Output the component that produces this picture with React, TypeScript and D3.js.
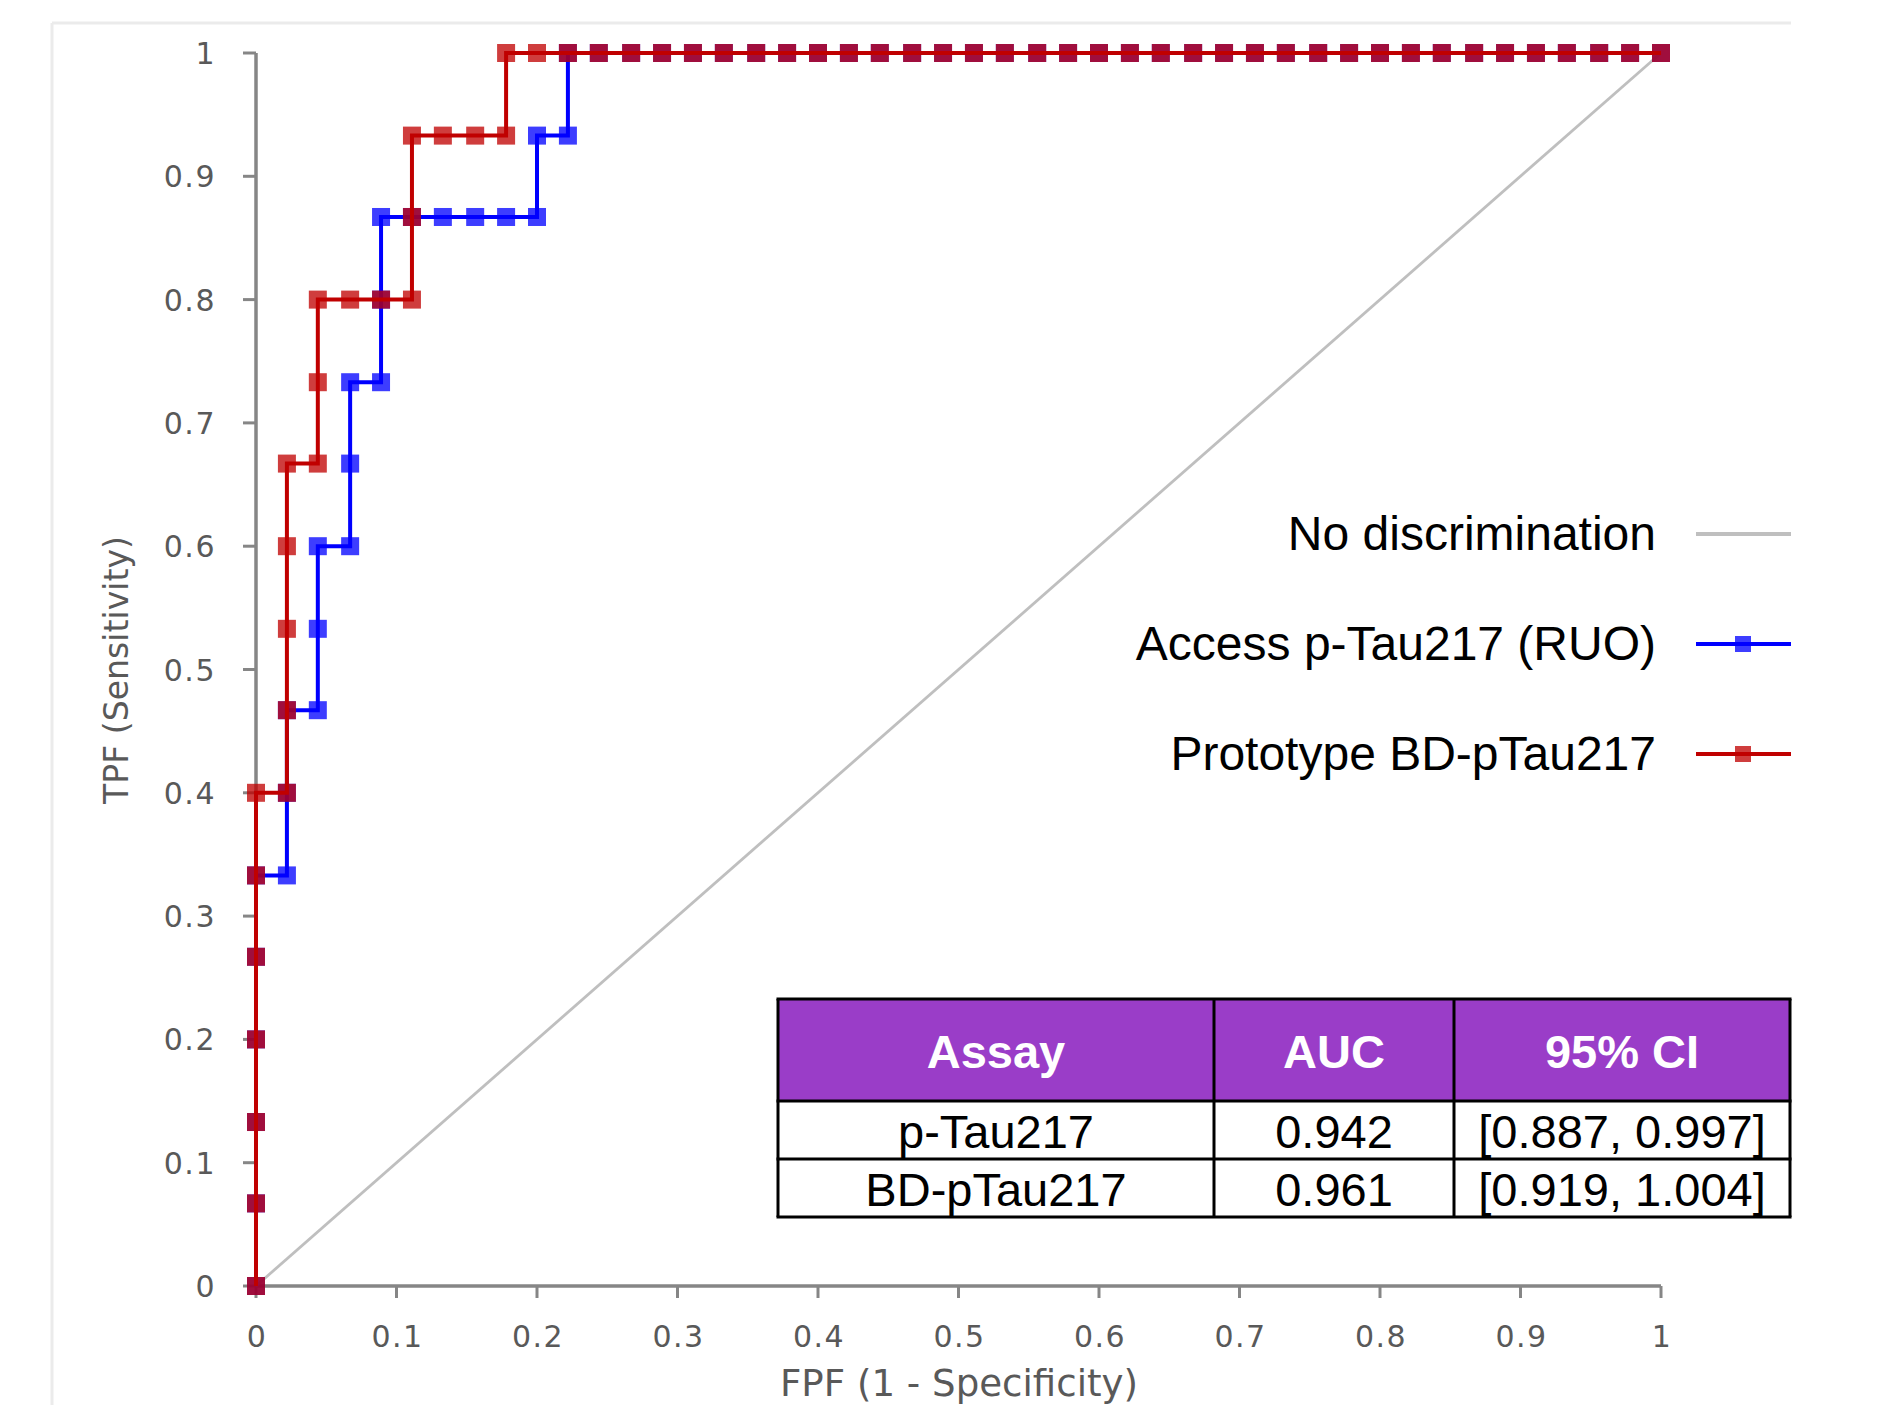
import React from "react";
import * as d3 from "d3";

// ---- data ----
const xTickValues = [0, 0.1, 0.2, 0.3, 0.4, 0.5, 0.6, 0.7, 0.8, 0.9, 1];
const yTickValues = [0, 0.1, 0.2, 0.3, 0.4, 0.5, 0.6, 0.7, 0.8, 0.9, 1];

const accessFPF = [
  0, 0, 0, 0, 0, 0, 0.022, 0.022, 0.022, 0.044, 0.044, 0.044, 0.067, 0.067, 0.067,
  0.089, 0.089, 0.089, 0.111, 0.133, 0.156, 0.178, 0.2, 0.2, 0.222, 0.222,
  0.244, 0.267, 0.289, 0.311, 0.333, 0.356, 0.378, 0.4, 0.422, 0.444, 0.467, 0.489,
  0.511, 0.533, 0.556, 0.578, 0.6, 0.622, 0.644, 0.667, 0.689, 0.711, 0.733, 0.756,
  0.778, 0.8, 0.822, 0.844, 0.867, 0.889, 0.911, 0.933, 0.956, 0.978, 1,
];
const accessTPF = [
  0, 0.067, 0.133, 0.2, 0.267, 0.333, 0.333, 0.4, 0.467, 0.467, 0.533, 0.6, 0.6, 0.667, 0.733,
  0.733, 0.8, 0.867, 0.867, 0.867, 0.867, 0.867, 0.867, 0.933, 0.933, 1,
  1, 1, 1, 1, 1, 1, 1, 1, 1, 1, 1, 1,
  1, 1, 1, 1, 1, 1, 1, 1, 1, 1, 1, 1,
  1, 1, 1, 1, 1, 1, 1, 1, 1, 1, 1,
];

const prototypeFPF = [
  0, 0, 0, 0, 0, 0, 0, 0.022, 0.022, 0.022, 0.022, 0.022, 0.044, 0.044, 0.044,
  0.067, 0.089, 0.111, 0.111, 0.111, 0.133, 0.156, 0.178, 0.178, 0.2, 0.222,
  0.244, 0.267, 0.289, 0.311, 0.333, 0.356, 0.378, 0.4, 0.422, 0.444, 0.467, 0.489,
  0.511, 0.533, 0.556, 0.578, 0.6, 0.622, 0.644, 0.667, 0.689, 0.711, 0.733, 0.756,
  0.778, 0.8, 0.822, 0.844, 0.867, 0.889, 0.911, 0.933, 0.956, 0.978, 1,
];
const prototypeTPF = [
  0, 0.067, 0.133, 0.2, 0.267, 0.333, 0.4, 0.4, 0.467, 0.533, 0.6, 0.667, 0.667, 0.733, 0.8,
  0.8, 0.8, 0.8, 0.867, 0.933, 0.933, 0.933, 0.933, 1, 1, 1,
  1, 1, 1, 1, 1, 1, 1, 1, 1, 1, 1, 1,
  1, 1, 1, 1, 1, 1, 1, 1, 1, 1, 1, 1,
  1, 1, 1, 1, 1, 1, 1, 1, 1, 1, 1,
];

const diagonalFPF = [0, 1];
const diagonalTPF = [0, 1];

const legendLabels = ["No discrimination", "Access p-Tau217 (RUO)", "Prototype BD-pTau217"];

const tableHeaders = ["Assay", "AUC", "95% CI"];
const tableAssays = ["p-Tau217", "BD-pTau217"];
const tableAUC = ["0.942", "0.961"];
const tableCI = ["[0.887, 0.997]", "[0.919, 1.004]"];

// ---- styling ----
const BLUE = "#0000ff";
const BLUE_MARK = "rgba(0,0,255,0.76)";
const RED = "#c00000";
const RED_MARK = "rgba(192,0,0,0.76)";
const DIAG = "#bfbfbf";
const AXIS = "#868686";
const TEXT_GRAY = "#595959";
const PURPLE = "#9a3dc8";

const W = 1878;
const H = 1405;

export default function App() {
  const x = d3.scaleLinear().domain([0, 1]).range([256, 1661]);
  const y = d3.scaleLinear().domain([0, 1]).range([1286, 53]);
  const line = d3
    .line<[number, number]>()
    .x((d) => x(d[0]))
    .y((d) => y(d[1]));

  const toPts = (xs: number[], ys: number[]) =>
    xs.map((v, i) => [v, ys[i]] as [number, number]);

  const series = [
    { pts: toPts(accessFPF, accessTPF), line: BLUE, mark: BLUE_MARK },
    { pts: toPts(prototypeFPF, prototypeTPF), line: RED, mark: RED_MARK },
  ];
  const diag = toPts(diagonalFPF, diagonalTPF);
  const fmt = (t: number) => String(+t.toFixed(1));
  const MS = 18;

  // table geometry
  const colX = [778, 1214, 1454, 1790];
  const rowY = [999, 1101, 1159, 1217];

  const legendStyles = [
    { line: DIAG, mark: null as string | null, w: 4 },
    { line: BLUE, mark: BLUE_MARK, w: 4 },
    { line: RED, mark: RED_MARK, w: 4 },
  ];

  return (
    <svg
      width={W}
      height={H}
      style={{ position: "absolute", left: 0, top: 0, display: "block", background: "#fff" }}
    >
      <rect x={0} y={0} width={W} height={H} fill="#ffffff" />
      {/* chart area border (partially visible) */}
      <line x1={52} y1={23} x2={1791} y2={23} stroke="#ebebeb" strokeWidth={3} />
      <line x1={52} y1={23} x2={52} y2={H} stroke="#ebebeb" strokeWidth={3} />

      {/* axes */}
      <line x1={x(0)} y1={y(0)} x2={x(0)} y2={y(1)} stroke={AXIS} strokeWidth={3.5} />
      <line x1={x(0)} y1={y(0)} x2={x(1)} y2={y(0)} stroke={AXIS} strokeWidth={3.5} />
      {yTickValues.map((t) => (
        <g key={"yt" + t}>
          <line x1={x(0) - 13} x2={x(0)} y1={y(t)} y2={y(t)} stroke={AXIS} strokeWidth={3} />
          <text
            x={216}
            y={y(t) + 11}
            textAnchor="end"
            fontFamily="DejaVu Sans"
            fontSize={30}
            letterSpacing={1.5}
            fill={TEXT_GRAY}
          >
            {fmt(t)}
          </text>
        </g>
      ))}
      {xTickValues.map((t) => (
        <g key={"xt" + t}>
          <line x1={x(t)} x2={x(t)} y1={y(0)} y2={y(0) + 12} stroke={AXIS} strokeWidth={3} />
          <text
            x={x(t) + 1}
            y={1347}
            textAnchor="middle"
            fontFamily="DejaVu Sans"
            fontSize={30}
            letterSpacing={1.5}
            fill={TEXT_GRAY}
          >
            {fmt(t)}
          </text>
        </g>
      ))}

      {/* axis titles */}
      <text
        transform={`translate(128,670) rotate(-90)`}
        textAnchor="middle"
        fontFamily="DejaVu Sans"
        fontSize={34}
        fill={TEXT_GRAY}
        textLength={268}
        lengthAdjust="spacingAndGlyphs"
      >
        TPF (Sensitivity)
      </text>
      <text
        x={959}
        y={1396}
        textAnchor="middle"
        fontFamily="DejaVu Sans"
        fontSize={38}
        fill={TEXT_GRAY}
        textLength={358}
        lengthAdjust="spacingAndGlyphs"
      >
        FPF (1 - Specificity)
      </text>

      {/* diagonal */}
      <path d={line(diag) || ""} fill="none" stroke={DIAG} strokeWidth={2.8} />

      {/* ROC series */}
      {series.map((s, si) => (
        <g key={"s" + si}>
          <path
            d={line(s.pts) || ""}
            fill="none"
            stroke={s.line}
            strokeWidth={4}
            strokeLinejoin="miter"
          />
          {s.pts.map((p, i) => (
            <rect
              key={i}
              x={x(p[0]) - MS / 2}
              y={y(p[1]) - MS / 2}
              width={MS}
              height={MS}
              fill={s.mark}
            />
          ))}
        </g>
      ))}

      {/* legend */}
      {legendLabels.map((lab, i) => {
        const ly = 534 + i * 110;
        const st = legendStyles[i];
        return (
          <g key={"lg" + i}>
            <text
              x={1656}
              y={ly + 16}
              textAnchor="end"
              fontFamily="Liberation Sans, Arial, sans-serif"
              fontSize={48}
              fill="#000"
            >
              {lab}
            </text>
            <line x1={1696} x2={1791} y1={ly} y2={ly} stroke={st.line} strokeWidth={st.w} />
            {st.mark && (
              <rect x={1743 - 8} y={ly - 8} width={16} height={16} fill={st.mark} />
            )}
          </g>
        );
      })}

      {/* table */}
      <rect
        x={colX[0]}
        y={rowY[0]}
        width={colX[3] - colX[0]}
        height={rowY[1] - rowY[0]}
        fill={PURPLE}
      />
      <rect
        x={colX[0]}
        y={rowY[1]}
        width={colX[3] - colX[0]}
        height={rowY[3] - rowY[1]}
        fill="#fff"
      />
      {rowY.map((ry, i) => (
        <line key={"rl" + i} x1={colX[0] - 1.5} x2={colX[3] + 1.5} y1={ry} y2={ry} stroke="#000" strokeWidth={3} />
      ))}
      {colX.map((cx, i) => (
        <line key={"cl" + i} x1={cx} x2={cx} y1={rowY[0]} y2={rowY[3]} stroke="#000" strokeWidth={3} />
      ))}
      {tableHeaders.map((h, i) => (
        <text
          key={"th" + i}
          x={(colX[i] + colX[i + 1]) / 2}
          y={rowY[0] + 69}
          textAnchor="middle"
          fontFamily="Liberation Sans, Arial, sans-serif"
          fontWeight="bold"
          fontSize={47}
          fill="#fff"
        >
          {h}
        </text>
      ))}
      {tableAssays.map((a, r) => {
        const cells = [a, tableAUC[r], tableCI[r]];
        return cells.map((c, i) => (
          <text
            key={"td" + r + "-" + i}
            x={(colX[i] + colX[i + 1]) / 2}
            y={rowY[r + 1] + 47}
            textAnchor="middle"
            fontFamily="Liberation Sans, Arial, sans-serif"
            fontSize={47}
            fill="#000"
          >
            {c}
          </text>
        ));
      })}
    </svg>
  );
}
